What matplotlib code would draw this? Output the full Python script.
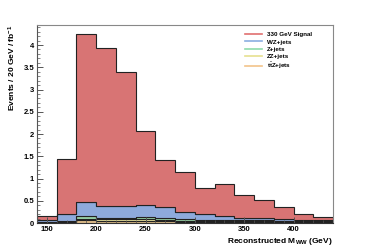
import numpy as np
import matplotlib
matplotlib.use("Agg")
import matplotlib.pyplot as plt
from matplotlib.ticker import MultipleLocator

plt.rcParams['font.family'] = ['Liberation Sans', 'DejaVu Sans']
plt.rcParams['font.weight'] = 'bold'
plt.rcParams['mathtext.fontset'] = 'custom'
plt.rcParams['mathtext.rm'] = 'Liberation Sans:bold'
plt.rcParams['mathtext.it'] = 'Liberation Sans:bold'
plt.rcParams['mathtext.bf'] = 'Liberation Sans:bold'

# Data (20 GeV bins from 140 to 440 GeV)
bin_edges = np.arange(140, 441, 20)
ttz = [0.01, 0.02, 0.06, 0.05, 0.05, 0.05, 0.04, 0.03, 0.03, 0.03, 0.02, 0.02, 0.02, 0.02, 0.01]
zz = [0.01, 0.01, 0.04, 0.03, 0.03, 0.03, 0.03, 0.02, 0.02, 0.02, 0.02, 0.02, 0.02, 0.01, 0.02]
zjets = [0.01, 0.01, 0.06, 0.04, 0.03, 0.05, 0.04, 0.03, 0.01, 0.01, 0.02, 0.03, 0.01, 0.01, 0.01]
wz = [0.04, 0.16, 0.32, 0.27, 0.27, 0.27, 0.24, 0.16, 0.14, 0.10, 0.06, 0.05, 0.05, 0.03, 0.03]
signal = [0.09, 1.24, 3.77, 3.54, 3.01, 1.67, 1.07, 0.91, 0.59, 0.72, 0.51, 0.40, 0.26, 0.13, 0.06]

series = [
    ("t$\\bar{t}$Z+jets", ttz, "#e8c48e", "#f2c48a"),
    ("ZZ+jets", zz, "#ece6a0", "#e6e090"),
    ("Z+jets", zjets, "#9ad4a8", "#8edcaa"),
    ("WZ+jets", wz, "#8eaadc", "#8aaee0"),
    ("330 GeV Signal", signal, "#d87474", "#e07070"),
]

fig = plt.figure(figsize=(3.70, 2.48), dpi=100)
ax = fig.add_axes([0.1, 0.1008, 0.8, 0.7984])

base = np.zeros(len(bin_edges) - 1)
handles = []
for label, vals, fc, lc in series:
    top = base + np.array(vals)
    ax.stairs(top, bin_edges, baseline=base.copy(), fill=True, color=fc, lw=0)
    ax.stairs(top, bin_edges, baseline=base.copy(), fill=False, color='#222222', lw=0.8)
    h, = ax.plot([], [], color=lc, lw=1.2, label=label)
    handles.append(h)
    base = top

ax.set_xlim(140, 440)
ax.set_ylim(0, 4.45)

ax.xaxis.set_major_locator(MultipleLocator(50))
ax.xaxis.set_minor_locator(MultipleLocator(10))
ax.yaxis.set_major_locator(MultipleLocator(0.5))
ax.yaxis.set_minor_locator(MultipleLocator(0.1))
ax.tick_params(which='both', direction='in', top=False, right=False, labelsize=5.5, pad=2, color='#555555')
ax.tick_params(which='major', length=4, width=0.7)
ax.tick_params(which='minor', length=2, width=0.5)
ax.set_yticks([0, 0.5, 1, 1.5, 2, 2.5, 3, 3.5, 4])
ax.set_yticklabels(['0', '0.5', '1', '1.5', '2', '2.5', '3', '3.5', '4'])
for lab in ax.get_xticklabels() + ax.get_yticklabels():
    lab.set_fontweight('bold')

for s in ax.spines.values():
    s.set_color('#888888')
    s.set_linewidth(0.8)
ax.spines['left'].set_color('#555555')
ax.spines['bottom'].set_color('#333333')

ax.set_xlabel("Reconstructed M$_{\\mathrm{WW}}$ (GeV)", fontsize=6, fontweight='bold', loc='right', labelpad=2)
ax.set_ylabel("Events / 20 GeV / fb$^{-1}$", fontsize=6, fontweight='bold', loc='top', labelpad=4)

leg = ax.legend(handles[::-1], [h.get_label() for h in handles[::-1]], loc='upper right',
                bbox_to_anchor=(0.945, 0.99), frameon=False, fontsize=4.5,
                handlelength=2.6, handletextpad=0.8, labelspacing=0.3, borderpad=0.3)
for t in leg.get_texts():
    t.set_fontweight('bold')

fig.savefig("out.png", dpi=100)
